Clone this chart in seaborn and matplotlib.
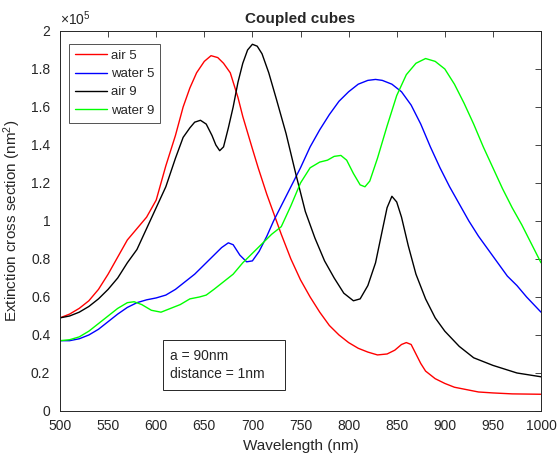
import numpy as np
import pandas as pd
import matplotlib
matplotlib.use('Agg')
from matplotlib import pyplot as plt
from matplotlib.patches import Rectangle
import seaborn as sns

# data (extinction in units of 1e5 nm^2)
air5_x = [500, 510, 520, 530, 540, 550, 560, 570, 580, 590, 600, 610, 620, 628, 635, 642, 650, 657,
          664, 670, 677, 685, 690, 700, 706, 715, 720, 730, 740, 750, 760, 770, 780, 790, 800, 810,
          820, 830, 840, 848, 855, 860, 865, 870, 875, 880, 890, 900, 910, 920, 935, 950, 970, 1000]
air5_y = [0.49, 0.51, 0.54, 0.58, 0.64, 0.72, 0.81, 0.90, 0.96, 1.02, 1.11, 1.29, 1.45, 1.60, 1.70,
          1.78, 1.84, 1.87, 1.86, 1.83, 1.78, 1.65, 1.55, 1.38, 1.28, 1.14, 1.07, 0.93, 0.80, 0.69,
          0.60, 0.52, 0.45, 0.40, 0.36, 0.33, 0.31, 0.295, 0.30, 0.32, 0.35, 0.36, 0.35, 0.30, 0.25,
          0.21, 0.17, 0.145, 0.125, 0.115, 0.10, 0.095, 0.09, 0.088]

water5_x = [500, 510, 520, 530, 540, 550, 560, 570, 580, 590, 600, 610, 620, 630, 640, 650, 660, 668,
            675, 680, 687, 694, 700, 707, 715, 722, 729, 740, 750, 760, 770, 780, 790, 800, 810, 820,
            828, 835, 845, 855, 865, 875, 885, 895, 905, 915, 925, 935, 945, 955, 965, 975, 985, 1000]
water5_y = [0.37, 0.37, 0.38, 0.40, 0.43, 0.47, 0.51, 0.545, 0.57, 0.585, 0.595, 0.61, 0.64, 0.68,
            0.72, 0.77, 0.82, 0.86, 0.885, 0.875, 0.82, 0.785, 0.79, 0.84, 0.92, 1.00, 1.07, 1.18,
            1.28, 1.39, 1.48, 1.56, 1.63, 1.68, 1.72, 1.74, 1.745, 1.74, 1.72, 1.68, 1.61, 1.51, 1.39,
            1.28, 1.18, 1.09, 1.00, 0.92, 0.85, 0.78, 0.71, 0.66, 0.60, 0.52]

air9_x = [500, 510, 520, 530, 540, 550, 560, 570, 580, 590, 600, 610, 620, 628, 635, 640, 646, 652,
          658, 662, 666, 670, 675, 680, 685, 690, 695, 700, 705, 710, 717, 725, 735, 745, 755, 765,
          775, 785, 795, 805, 812, 820, 828, 835, 840, 845, 850, 855, 862, 870, 880, 890, 900, 915,
          930, 950, 975, 1000]
air9_y = [0.49, 0.50, 0.52, 0.55, 0.59, 0.64, 0.70, 0.78, 0.85, 0.96, 1.07, 1.18, 1.33, 1.44, 1.49,
          1.52, 1.53, 1.51, 1.45, 1.40, 1.37, 1.39, 1.49, 1.60, 1.73, 1.83, 1.90, 1.93, 1.92, 1.88,
          1.78, 1.64, 1.46, 1.25, 1.05, 0.91, 0.79, 0.70, 0.62, 0.58, 0.59, 0.66, 0.78, 0.95, 1.07,
          1.13, 1.10, 1.02, 0.87, 0.72, 0.59, 0.49, 0.42, 0.34, 0.28, 0.24, 0.20, 0.18]

water9_x = [500, 510, 520, 530, 540, 550, 560, 570, 577, 585, 595, 605, 615, 625, 635, 645, 652, 660,
            670, 680, 690, 700, 710, 720, 730, 740, 750, 760, 770, 778, 785, 792, 798, 805, 812, 817,
            822, 830, 840, 850, 860, 870, 880, 890, 900, 910, 920, 930, 940, 950, 960, 970, 980, 990, 1000]
water9_y = [0.37, 0.375, 0.39, 0.42, 0.46, 0.50, 0.54, 0.57, 0.575, 0.56, 0.53, 0.52, 0.54, 0.56,
            0.59, 0.60, 0.61, 0.64, 0.68, 0.72, 0.78, 0.83, 0.88, 0.93, 0.97, 1.08, 1.20, 1.28, 1.31,
            1.32, 1.34, 1.345, 1.32, 1.25, 1.19, 1.18, 1.21, 1.33, 1.50, 1.66, 1.77, 1.83, 1.855, 1.84,
            1.80, 1.72, 1.62, 1.51, 1.39, 1.28, 1.17, 1.07, 0.98, 0.88, 0.78]

series_names = ['air 5', 'water 5', 'air 9', 'water 9']
series_colors = ['#ff0000', '#0000ff', '#000000', '#00ff00']
y_ticks = [0, 0.2, 0.4, 0.6, 0.8, 1, 1.2, 1.4, 1.6, 1.8, 2]
y_labels = ['0', '0.2', '0.4', '0.6', '0.8', '1', '1.2', '1.4', '1.6', '1.8', '2']
x_ticks = [500, 550, 600, 650, 700, 750, 800, 850, 900, 950, 1000]

frames = []
for name, xs, ys in zip(series_names, [air5_x, water5_x, air9_x, water9_x],
                        [air5_y, water5_y, air9_y, water9_y]):
    frames.append(pd.DataFrame({'Wavelength': xs, 'Ext': ys, 'Series': name}))
df = pd.concat(frames, ignore_index=True)

sns.set_style('white')
plt.rcParams['font.family'] = ['Liberation Sans', 'DejaVu Sans']
plt.rcParams['mathtext.fontset'] = 'custom'
plt.rcParams['mathtext.rm'] = 'Liberation Sans'
plt.rcParams['mathtext.it'] = 'Liberation Sans'

fig = plt.figure(figsize=(5.57, 4.61), dpi=100)
ax = fig.add_axes([0.1077, 0.1085, 0.8636, 0.8243])

sns.lineplot(data=df, x='Wavelength', y='Ext', hue='Series', hue_order=series_names,
             palette=series_colors, estimator=None, sort=False, linewidth=1.0, ax=ax)

ax.set_xlim(500, 1000)
ax.set_ylim(0, 2)
ax.set_xticks(x_ticks)
ax.set_yticks(y_ticks)
ax.set_yticklabels(y_labels)

gray = '#262626'
ax.tick_params(direction='in', top=True, right=True, length=4, width=0.6,
               labelsize=10, colors=gray, labelcolor=gray)
ax.tick_params(axis='y', pad=7)
ax.tick_params(axis='x', pad=6)
for sp in ax.spines.values():
    sp.set_color(gray)
    sp.set_linewidth(0.7)

ax.set_xlabel('Wavelength (nm)', fontsize=11, color=gray, labelpad=4)
ax.set_ylabel('Extinction cross section (nm$^2$)', fontsize=11, color=gray, labelpad=6)
ax.set_title('Coupled cubes', fontsize=11, fontweight='bold', pad=6)
ax.text(0.0, 1.008, r'$\times\mathregular{10^5}$', transform=ax.transAxes,
        fontsize=10, color=gray, ha='left', va='bottom')

leg = ax.legend(loc='upper left', fontsize=9.5, frameon=True, fancybox=False,
                edgecolor=gray, borderpad=0.45, handlelength=2.4, handletextpad=0.3,
                labelspacing=0.45, borderaxespad=0, bbox_to_anchor=(0.019, 0.966))
leg.get_frame().set_linewidth(0.7)
for t in leg.get_texts():
    t.set_color(gray)

# annotation box
ax.add_patch(Rectangle((0.214, 0.055), 0.254, 0.132, transform=ax.transAxes,
                       facecolor='white', edgecolor=gray, linewidth=0.7, zorder=5))
ax.text(0.229, 0.121, 'a = 90nm\ndistance = 1nm', transform=ax.transAxes, fontsize=10,
        color=gray, ha='left', va='center', linespacing=1.45, zorder=6)

fig.savefig('out.png', dpi=100)
